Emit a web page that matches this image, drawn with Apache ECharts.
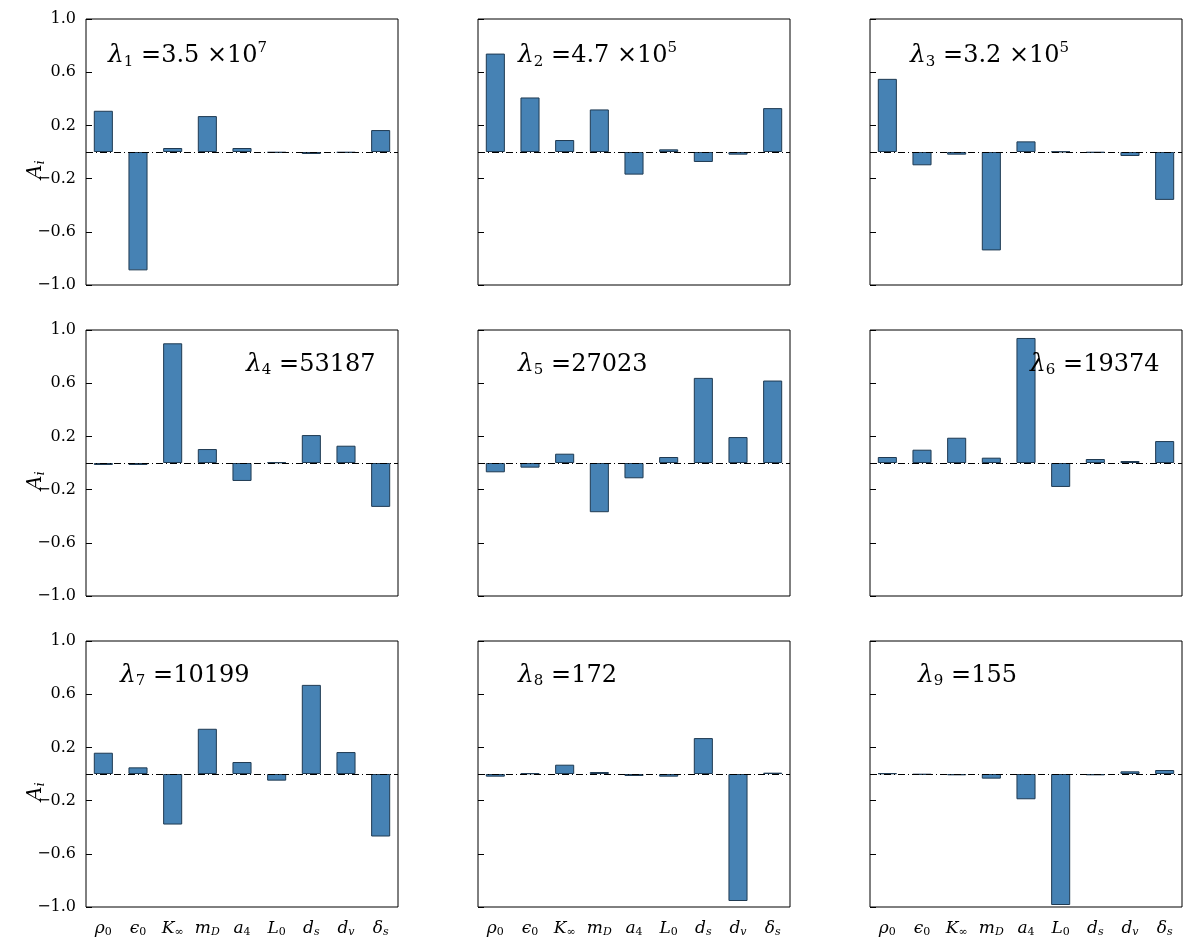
<!DOCTYPE html>
<html>
<head>
<meta charset="utf-8">
<title>Eigenvector components</title>
<script src="https://cdn.jsdelivr.net/npm/echarts@6/dist/echarts.min.js"></script>
<style>body{margin:0;background:#fff}#main{width:1198px;height:942px}</style>
</head>
<body>
<div id="main"></div>
<script>
// parameter labels as rich text: [base, subscript]
var params = [['ρ','0'],['ϵ','0'],['K','∞'],['m','D'],['a','4'],['L','0'],['d','s'],['d','v'],['δ','s']];
var lambdaLabels = [
  '{i|λ}{s|1}{b| =3.5 ×10}{p|7}', '{i|λ}{s|2}{b| =4.7 ×10}{p|5}', '{i|λ}{s|3}{b| =3.2 ×10}{p|5}',
  '{i|λ}{s|4}{b| =53187}', '{i|λ}{s|5}{b| =27023}', '{i|λ}{s|6}{b| =19374}',
  '{i|λ}{s|7}{b| =10199}', '{i|λ}{s|8}{b| =172}', '{i|λ}{s|9}{b| =155}'
];
var labelX = [108, 518, 910, 246, 518, 1030, 120, 518, 918];
var yTicks = [-1.0, -0.6, -0.2, 0.2, 0.6, 1.0];
var v1 = [0.31, -0.89, 0.03, 0.27, 0.03, -0.005, -0.015, -0.005, 0.165];
var v2 = [0.74, 0.41, 0.09, 0.32, -0.17, 0.02, -0.075, -0.02, 0.33];
var v3 = [0.55, -0.10, -0.02, -0.74, 0.08, 0.003, -0.005, -0.03, -0.36];
var v4 = [-0.015, -0.015, 0.90, 0.105, -0.135, 0.005, 0.21, 0.13, -0.33];
var v5 = [-0.07, -0.035, 0.07, -0.37, -0.115, 0.045, 0.64, 0.195, 0.62];
var v6 = [0.045, 0.10, 0.19, 0.04, 0.94, -0.18, 0.03, 0.015, 0.165];
var v7 = [0.16, 0.05, -0.38, 0.34, 0.09, -0.05, 0.67, 0.165, -0.47];
var v8 = [-0.02, 0.005, 0.07, 0.015, -0.015, -0.02, 0.27, -0.955, 0.01];
var v9 = [0.005, -0.005, -0.01, -0.035, -0.19, -0.985, -0.01, 0.02, 0.03];
var allValues = [v1, v2, v3, v4, v5, v6, v7, v8, v9];

var colLeft = [86, 478, 870], rowTop = [19, 330, 641];
var panelW = 312, panelH = 266;
var font = 'DejaVu Serif';
var grids = [], xAxes = [], yAxes = [], series = [], graphics = [];

allValues.forEach(function (vals, k) {
  var r = Math.floor(k / 3), c = k % 3;
  grids.push({left: colLeft[c], top: rowTop[r], width: panelW, height: panelH,
    show: true, borderColor: '#000', borderWidth: 1, backgroundColor: '#fff'});
  xAxes.push({type: 'category', gridIndex: k, data: params.map(function (p, i) { return i; }),
    axisLine: {show: false}, axisTick: {show: false},
    axisLabel: {show: r === 2, margin: 12, interval: 0,
      formatter: function (v) {
        var p = params[v];
        return '{b|' + p[0] + '}{' + (/[a-zA-Z]/.test(p[1]) ? 'si' : 's') + '|' + p[1] + '}';
      },
      rich: {b: {fontFamily: font, fontStyle: 'italic', fontSize: 17, color: '#000'},
             s: {fontFamily: font, fontSize: 11, color: '#000', verticalAlign: 'bottom', padding: [8, 0, 0, 0]},
             si: {fontFamily: font, fontStyle: 'italic', fontSize: 11, color: '#000', verticalAlign: 'bottom', padding: [8, 0, 0, 0]}}}
  });
  yAxes.push({type: 'value', gridIndex: k, min: -1, max: 1, interval: 0.4,
    axisLine: {show: false}, splitLine: {show: false},
    axisTick: {show: true, inside: true, length: 6, lineStyle: {color: '#000'},
      customValues: yTicks},
    axisLabel: {show: c === 0, fontFamily: font, fontSize: 16, color: '#000', margin: 10,
      customValues: yTicks,
      formatter: function (v) { return (v < 0 ? '−' : '') + Math.abs(v).toFixed(1); }}
  });
  series.push({type: 'bar', xAxisIndex: k, yAxisIndex: k, data: vals, barWidth: '55%',
    itemStyle: {color: '#4682b4', borderColor: '#1f3a52', borderWidth: 1},
    silent: true,
    markLine: {symbol: 'none', silent: true, label: {show: false},
      lineStyle: {color: '#000', type: [7, 3, 1, 3], width: 1},
      data: [{yAxis: 0}]}
  });
  graphics.push({type: 'text', left: labelX[k], top: rowTop[r] + 22, z: 100,
    style: {text: lambdaLabels[k], rich: {
      i: {fontFamily: font, fontStyle: 'italic', fontSize: 25, fill: '#000'},
      b: {fontFamily: font, fontSize: 24, fill: '#000'},
      s: {fontFamily: font, fontSize: 15, fill: '#000', verticalAlign: 'bottom', padding: [12, 0, 0, 0]},
      p: {fontFamily: font, fontSize: 15, fill: '#000', padding: [0, 0, 14, 0]}}}});
  if (c === 0) {
    graphics.push({type: 'text', x: 24, y: rowTop[r] + 160, rotation: Math.PI / 2, z: 100,
      style: {text: '{a|A}{s|i}', rich: {
        a: {fontFamily: font, fontStyle: 'italic', fontSize: 20, fill: '#000'},
        s: {fontFamily: font, fontStyle: 'italic', fontSize: 13, fill: '#000', padding: [10, 0, 0, 0]}}}});
  }
});

var chart = echarts.init(document.getElementById('main'));
chart.setOption({animation: false, grid: grids, xAxis: xAxes, yAxis: yAxes, series: series, graphic: graphics});
</script>
</body>
</html>
